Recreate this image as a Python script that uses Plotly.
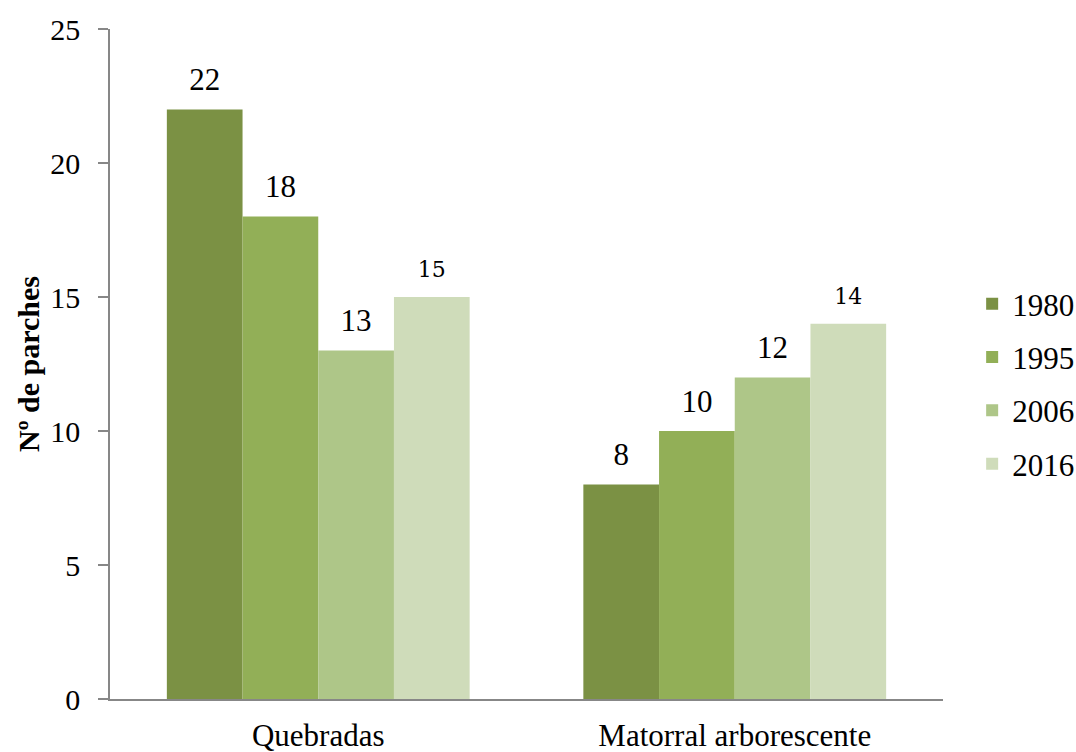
import plotly.graph_objects as go

# Number of patches per cover type and survey year
categories = ["Quebradas", "Matorral arborescente"]
years = ["1980", "1995", "2006", "2016"]
patches_1980 = [22, 8]
patches_1995 = [18, 10]
patches_2006 = [13, 12]
patches_2016 = [15, 14]
y_ticks = [0, 5, 10, 15, 20, 25]

series = [patches_1980, patches_1995, patches_2006, patches_2016]
colors = ["#7B9144", "#92AF57", "#AEC688", "#CFDCBA"]

SERIF = "Liberation Serif"
LABEL_SERIF = "DejaVu Serif"

fig = go.Figure()
for i, (year, vals, col) in enumerate(zip(years, series, colors)):
    last = i == len(years) - 1
    fam = LABEL_SERIF if last else SERIF
    size = 22 if last else 31
    # small base font so the trailing blank line only adds a short lift
    labels = [
        f"<span style='font-family:{fam};font-size:{size}px'>{v}</span><br> "
        for v in vals
    ]
    fig.add_trace(go.Bar(
        x=categories,
        y=vals,
        name=year,
        legendgroup=year,
        marker=dict(color=col, line=dict(width=0)),
        text=labels,
        texttemplate="%{text}",
        textposition="outside",
        textfont=dict(family=fam, size=11, color="black"),
        cliponaxis=False,
    ))

fig.update_layout(
    width=1076,
    height=752,
    barmode="group",
    bargap=0.273,
    bargroupgap=0,
    plot_bgcolor="white",
    paper_bgcolor="white",
    margin=dict(l=110, r=133, t=29, b=53, autoexpand=False),
    font=dict(family=SERIF, size=31, color="black"),
    showlegend=True,
    legend=dict(
        x=1.035, xanchor="left", xref="paper",
        y=0.47, yanchor="middle",
        font=dict(family=SERIF, size=31),
        traceorder="grouped",
        tracegroupgap=10,
        itemwidth=30,
        bgcolor="rgba(0,0,0,0)",
    ),
)

fig.update_xaxes(
    showline=True, linecolor="#878787", linewidth=1.5,
    showgrid=False, ticks="", automargin=False,
    tickfont=dict(family=SERIF, size=31),
    ticklabelstandoff=8,
)
fig.update_yaxes(
    range=[0, 25],
    tickvals=y_ticks,
    showline=True, linecolor="#878787", linewidth=1.5,
    showgrid=False, zeroline=False, automargin=False,
    ticks="outside", ticklen=10, tickcolor="#878787", tickwidth=1.5,
    tickfont=dict(family=SERIF, size=30),
    ticklabelstandoff=12,
    title=dict(text="<b>Nº de parches</b>", font=dict(family=SERIF, size=30), standoff=2),
)

fig.write_html("out.html")
